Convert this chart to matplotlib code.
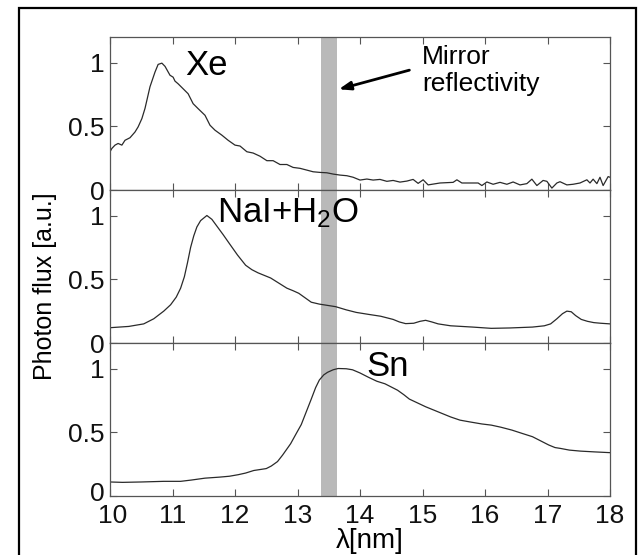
import matplotlib
matplotlib.use("Agg")
import matplotlib.pyplot as plt
from matplotlib.patches import Rectangle
from matplotlib.transforms import ScaledTranslation

plt.rcParams['font.family'] = ['Liberation Sans', 'DejaVu Sans']
plt.rcParams['mathtext.fontset'] = 'custom'
plt.rcParams['mathtext.rm'] = 'Liberation Sans'
plt.rcParams['mathtext.it'] = 'Liberation Sans'

# Xe spectrum
xe_x = [10.0, 10.03, 10.08, 10.13, 10.19, 10.24, 10.32, 10.40, 10.45, 10.51, 10.56, 10.64,
        10.72, 10.77, 10.83, 10.88, 10.96, 11.01, 11.04, 11.09, 11.17, 11.25, 11.33, 11.41,
        11.52, 11.60, 11.68, 11.79, 11.89, 12.0, 12.08, 12.19, 12.29, 12.40, 12.51, 12.61,
        12.72, 12.83, 12.93, 13.04, 13.15, 13.25, 13.36, 13.47, 13.57, 13.68, 13.79, 13.89,
        14.0, 14.11, 14.21, 14.32, 14.43, 14.53, 14.64, 14.75, 14.85, 14.93, 15.01, 15.09,
        15.28, 15.49, 15.55, 15.63, 15.81, 15.89, 15.95, 16.03, 16.13, 16.24, 16.35, 16.45,
        16.56, 16.67, 16.75, 16.83, 16.93, 16.99, 17.07, 17.15, 17.20, 17.31, 17.41, 17.52,
        17.63, 17.68, 17.73, 17.79, 17.84, 17.89, 17.97, 18.0]
xe_y = [0.30, 0.326, 0.352, 0.365, 0.352, 0.39, 0.41, 0.455, 0.495, 0.56, 0.64, 0.81,
        0.925, 0.985, 0.995, 0.97, 0.90, 0.885, 0.854, 0.833, 0.794, 0.755, 0.677, 0.638,
        0.586, 0.508, 0.469, 0.43, 0.39, 0.352, 0.345, 0.30, 0.29, 0.265, 0.23, 0.23,
        0.20, 0.20, 0.177, 0.17, 0.156, 0.143, 0.138, 0.135, 0.125, 0.117, 0.112, 0.10,
        0.078, 0.086, 0.078, 0.083, 0.068, 0.075, 0.062, 0.07, 0.083, 0.052, 0.08, 0.04,
        0.055, 0.06, 0.08, 0.055, 0.055, 0.055, 0.035, 0.063, 0.045, 0.06, 0.045, 0.063,
        0.04, 0.05, 0.085, 0.035, 0.075, 0.068, 0.015, 0.055, 0.065, 0.04, 0.045, 0.055,
        0.08, 0.055, 0.085, 0.05, 0.10, 0.035, 0.105, 0.10]

# NaI + H2O spectrum
nai_x = [10.0, 10.3, 10.54, 10.7, 10.86, 10.97, 11.06, 11.13, 11.19, 11.24, 11.29, 11.34,
         11.39, 11.45, 11.55, 11.63, 11.72, 11.81, 11.91, 12.04, 12.17, 12.27, 12.37, 12.57,
         12.7, 12.83, 12.93, 13.02, 13.12, 13.22, 13.35, 13.48, 13.61, 13.78, 13.94, 14.13,
         14.33, 14.53, 14.63, 14.73, 14.86, 14.96, 15.05, 15.15, 15.25, 15.45, 15.8, 16.1,
         16.4, 16.76, 16.95, 17.05, 17.15, 17.24, 17.31, 17.38, 17.45, 17.54, 17.64, 17.74,
         17.85, 18.0]
nai_y = [0.12, 0.13, 0.15, 0.19, 0.25, 0.30, 0.36, 0.43, 0.52, 0.63, 0.75, 0.84,
         0.91, 0.96, 1.0, 0.97, 0.91, 0.85, 0.78, 0.69, 0.61, 0.575, 0.55, 0.51,
         0.47, 0.43, 0.41, 0.39, 0.355, 0.32, 0.305, 0.295, 0.285, 0.26, 0.24, 0.225,
         0.21, 0.185, 0.165, 0.152, 0.155, 0.17, 0.178, 0.165, 0.15, 0.135, 0.125, 0.115,
         0.118, 0.125, 0.135, 0.15, 0.19, 0.23, 0.25, 0.245, 0.215, 0.185, 0.17, 0.16,
         0.155, 0.15]

# Sn spectrum
sn_x = [10.0, 10.2, 10.5, 10.86, 11.13, 11.3, 11.52, 11.75, 11.91, 12.05, 12.17, 12.3,
        12.5, 12.58, 12.68, 12.76, 12.89, 12.98, 13.06, 13.14, 13.22, 13.29, 13.35, 13.42,
        13.48, 13.57, 13.65, 13.78, 13.88, 14.0, 14.14, 14.27, 14.4, 14.5, 14.6, 14.7,
        14.79, 14.92, 15.05, 15.25, 15.45, 15.6, 15.77, 15.95, 16.1, 16.25, 16.43, 16.6,
        16.76, 16.9, 17.02, 17.12, 17.21, 17.35, 17.53, 17.75, 18.0]
sn_y = [0.11, 0.107, 0.11, 0.115, 0.115, 0.125, 0.14, 0.148, 0.155, 0.167, 0.18, 0.20,
        0.215, 0.235, 0.27, 0.32, 0.41, 0.49, 0.56, 0.66, 0.76, 0.85, 0.91, 0.95,
        0.97, 0.99, 1.0, 0.998, 0.99, 0.965, 0.93, 0.90, 0.88, 0.855, 0.83, 0.795,
        0.76, 0.73, 0.70, 0.66, 0.62, 0.595, 0.58, 0.565, 0.556, 0.54, 0.517, 0.49,
        0.465, 0.43, 0.40, 0.38, 0.373, 0.36, 0.352, 0.346, 0.34]

band = (13.37, 13.63)
xticks = [10, 11, 12, 13, 14, 15, 16, 17, 18]
yticks = [0, 0.5, 1]
ytick_labels = ["0", "0.5", "1"]

fig = plt.figure(figsize=(6.42, 5.55), dpi=100)

# outer frame
fig.patches.append(Rectangle((19 / 642, -0.01), 617 / 642, 1 - 8 / 555 + 0.01,
                             transform=fig.transFigure, fill=False, ec='black', lw=1.6))

left, width = 110 / 642, 500 / 642
h = 153 / 555
bottoms = [0.1063 + 2 * h, 0.1063 + h, 0.1063]
series = [(xe_x, xe_y), (nai_x, nai_y), (sn_x, sn_y)]
axes = []
for b, (xs, ys) in zip(bottoms, series):
    ax = fig.add_axes([left, b, width, h])
    ax.axvspan(band[0], band[1], color='#b9b9b9', lw=0, zorder=0)
    ax.plot(xs, ys, color='#2a2a2a', lw=0.9, zorder=2)
    ax.set_xlim(10, 18)
    ax.set_ylim(0, 1.2)
    ax.set_xticks(xticks)
    ax.set_yticks(yticks)
    ax.set_yticklabels(ytick_labels)
    ax.tick_params(direction='in', top=True, right=True, length=5, width=0.8,
                   color='#555555', labelsize=19, pad=4, labelcolor='#111111')
    for s in ax.spines.values():
        s.set_color('#555555')
        s.set_linewidth(0.9)
    axes.append(ax)

for ax in axes[:2]:
    ax.tick_params(labelbottom=False)
axes[2].tick_params(axis='x', pad=6)

# the bottom "0" sits a little high and "10" a little right, as in the original
fig.canvas.draw()
lab0 = axes[2].get_yticklabels()[0]
lab0.set_transform(lab0.get_transform() + ScaledTranslation(0, 5 / 100, fig.dpi_scale_trans))
lab10 = axes[2].get_xticklabels()[0]
lab10.set_transform(lab10.get_transform() + ScaledTranslation(3 / 100, 0, fig.dpi_scale_trans))

axes[0].text(11.2, 0.9, "Xe", fontsize=25, va='baseline', ha='left')
axes[1].text(11.71, 0.945, "NaI+H$_\\mathregular{2}$O", fontsize=25, va='baseline', ha='left')
axes[2].text(14.1, 0.945, "Sn", fontsize=25, va='baseline', ha='left')

axes[0].text(14.99, 0.99, "Mirror", fontsize=19, va='baseline', ha='left')
axes[0].text(14.99, 0.78, "reflectivity", fontsize=19, va='baseline', ha='left')
axes[0].annotate('', xy=(13.66, 0.79), xytext=(14.79, 0.94),
                 arrowprops=dict(arrowstyle='-|>,head_length=0.7,head_width=0.25',
                                 color='black', lw=2, shrinkA=0, shrinkB=0))

fig.text(45 / 642, 1 - 286 / 555, "Photon flux [a.u.]", rotation=90,
         fontsize=18, ha='center', va='center')
fig.text(370 / 642, 1 - 541 / 555, "λ[nm]", fontsize=20, ha='center', va='center')

fig.savefig("out.png", dpi=100)
